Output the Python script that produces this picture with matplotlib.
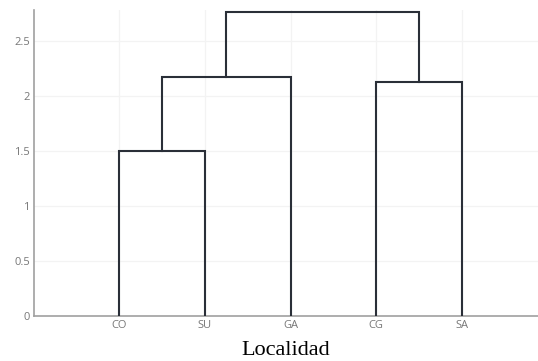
import matplotlib
matplotlib.use("Agg")
import matplotlib.pyplot as plt

# Data
leaf_labels = ["CO", "SU", "GA", "CG", "SA"]
# merges: (left cluster id, right cluster id, height); leaves are 0..4, new clusters 5..
merge_left = [0, 5, 3, 6]
merge_right = [1, 2, 4, 7]
merge_height = [1.50, 2.17, 2.13, 2.76]
y_ticks = [0, 0.5, 1, 1.5, 2, 2.5]
y_tick_labels = ["0", "0.5", "1", "1.5", "2", "2.5"]
x_title = "Localidad"

W, H = 538, 361
fig = plt.figure(figsize=(W / 100, H / 100), dpi=100)
ax = fig.add_axes([34 / W, (H - 316) / H, (W - 34) / W, (316 - 10) / H])

leaf_pos = [5 + 10 * i for i in range(len(leaf_labels))]
pos = {i: leaf_pos[i] for i in range(len(leaf_labels))}
hgt = {i: 0.0 for i in range(len(leaf_labels))}
line_color = "#2a2f38"
for k, (a, b, h) in enumerate(zip(merge_left, merge_right, merge_height)):
    xa, xb = pos[a], pos[b]
    ax.plot([xa, xa, xb, xb], [hgt[a], h, h, hgt[b]], color=line_color,
            lw=1.5, solid_joinstyle="miter", zorder=3)
    nid = len(leaf_labels) + k
    pos[nid] = (xa + xb) / 2
    hgt[nid] = h

ax.set_xlim(5 - 85 / 8.575, 45 + 76 / 8.575)
ax.set_ylim(0, 2.78)
ax.set_xticks(leaf_pos)
ax.set_xticklabels(leaf_labels)
ax.set_yticks(y_ticks)
ax.set_yticklabels(y_tick_labels)
ax.grid(True, color="#f3f3f3", lw=0.9, zorder=0)
ax.set_axisbelow(True)
for s in ["top", "right"]:
    ax.spines[s].set_visible(False)
for s in ["left", "bottom"]:
    ax.spines[s].set_color("#a0a0a0")
    ax.spines[s].set_linewidth(1.2)
ax.tick_params(length=0, labelsize=8, labelcolor="#777777", pad=3)
for t in ax.get_xticklabels() + ax.get_yticklabels():
    t.set_family("Open Sans")
ax.set_xlabel(x_title, family="Liberation Serif", fontsize=16, color="black", labelpad=7)

fig.savefig("out.png", dpi=100)
